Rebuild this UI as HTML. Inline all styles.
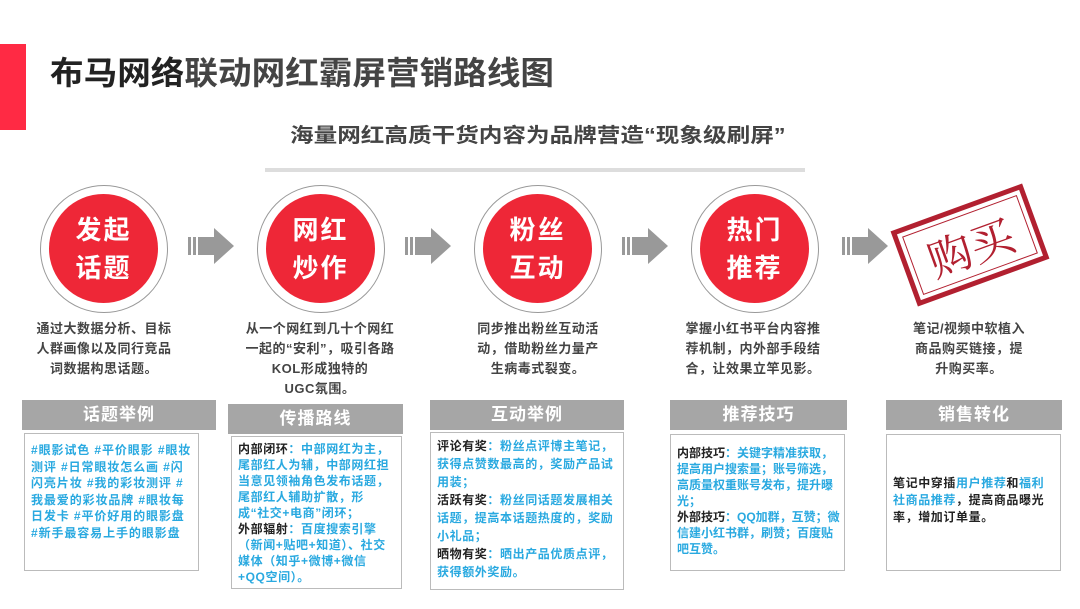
<!DOCTYPE html>
<html><head><meta charset="utf-8"><style>
*{margin:0;padding:0;box-sizing:border-box}
body{width:1080px;height:609px;background:#fff;position:relative;overflow:hidden;font-family:"Liberation Sans","Noto Sans CJK SC",sans-serif;font-weight:bold}
.a{position:absolute}
.circ{position:absolute;width:128px;height:128px;border-radius:50%;border:1.5px solid #999;background:#fff}
.circ div{position:absolute;left:8px;top:8px;width:109px;height:109px;border-radius:50%;background:#ee2737;color:#fff;font-size:26px;line-height:38px;text-align:center;padding-top:17px;letter-spacing:2px}
.desc{position:absolute;font-size:13px;line-height:20px;color:#444;text-align:center;letter-spacing:0.5px}
.hd{position:absolute;height:30px;background:#a6a6a6;color:#fff;font-size:17px;line-height:30px;text-align:center;letter-spacing:1px}
.bx{position:absolute;border:1.5px solid #bbb;background:#fff;font-size:12px;line-height:16.5px;color:#29a9e0;padding:6px 6px;letter-spacing:0.6px}
.k{color:#222}
.arr{position:absolute;width:50px;height:40px}
</style></head><body>
<div class="a" style="left:0;top:44px;width:26px;height:86px;background:#ff2a44"></div>
<div class="a" style="left:50px;top:55px;font-size:32px;line-height:36px;color:#222;white-space:nowrap;transform:scaleX(1.05);transform-origin:0 0">布马网络<span style="color:#444">联动网红霸屏营销路线图</span></div>
<div class="a" style="left:290px;top:123px;font-size:20px;line-height:26px;color:#444;white-space:nowrap;transform:scaleX(1.18);transform-origin:0 0">海量网红高质干货内容为品牌营造“现象级刷屏”</div>
<div class="a" style="left:265px;top:168px;width:540px;height:4px;background:#ddd"></div>

<div class="circ" style="left:40px;top:185px"><div>发起<br>话题</div></div>
<div class="circ" style="left:257px;top:185px"><div>网红<br>炒作</div></div>
<div class="circ" style="left:474px;top:185px"><div>粉丝<br>互动</div></div>
<div class="circ" style="left:691px;top:185px"><div>热门<br>推荐</div></div>

<svg class="arr" style="left:188px;top:226px" viewBox="0 0 50 40"><rect x="0" y="11" width="3" height="18" fill="#999"/><rect x="5" y="11" width="3" height="18" fill="#999"/><rect x="10" y="11" width="16" height="18" fill="#999"/><polygon points="26,2 46,20 26,38" fill="#999"/></svg>
<svg class="arr" style="left:405px;top:226px" viewBox="0 0 50 40"><rect x="0" y="11" width="3" height="18" fill="#999"/><rect x="5" y="11" width="3" height="18" fill="#999"/><rect x="10" y="11" width="16" height="18" fill="#999"/><polygon points="26,2 46,20 26,38" fill="#999"/></svg>
<svg class="arr" style="left:622px;top:226px" viewBox="0 0 50 40"><rect x="0" y="11" width="3" height="18" fill="#999"/><rect x="5" y="11" width="3" height="18" fill="#999"/><rect x="10" y="11" width="16" height="18" fill="#999"/><polygon points="26,2 46,20 26,38" fill="#999"/></svg>
<svg class="arr" style="left:842px;top:226px" viewBox="0 0 50 40"><rect x="0" y="11" width="3" height="18" fill="#999"/><rect x="5" y="11" width="3" height="18" fill="#999"/><rect x="10" y="11" width="16" height="18" fill="#999"/><polygon points="26,2 46,20 26,38" fill="#999"/></svg>

<div class="a" style="left:900px;top:205px;width:140px;height:80px;transform:rotate(-20deg);border:5px solid #b22030;background:#fff">
<div style="position:absolute;left:4px;top:4px;right:4px;bottom:4px;border:1.5px solid #b22030;color:#b22030;font-weight:normal;font-family:'Noto Serif CJK SC',serif;font-size:44px;line-height:60px;text-align:center">购买</div></div>

<div class="desc" style="left:34px;top:319px;width:140px">通过大数据分析、目标人群画像以及同行竞品词数据构思话题。</div>
<div class="desc" style="left:245px;top:319px;width:150px">从一个网红到几十个网红一起的“安利”，吸引各路KOL形成独特的<br>UGC氛围。</div>
<div class="desc" style="left:472px;top:319px;width:132px">同步推出粉丝互动活动，借助粉丝力量产生病毒式裂变。</div>
<div class="desc" style="left:682px;top:319px;width:142px">掌握小红书平台内容推荐机制，内外部手段结合，让效果立竿见影。</div>
<div class="desc" style="left:910px;top:319px;width:118px">笔记/视频中软植入商品购买链接，提升购买率。</div>

<div class="hd" style="left:22px;top:400px;width:194px">话题举例</div>
<div class="hd" style="left:228px;top:404px;width:175px">传播路线</div>
<div class="hd" style="left:430px;top:400px;width:194px">互动举例</div>
<div class="hd" style="left:670px;top:400px;width:177px">推荐技巧</div>
<div class="hd" style="left:886px;top:400px;width:176px">销售转化</div>

<div class="bx" style="left:24px;top:433px;width:175px;height:138px;padding-top:8px;letter-spacing:0.9px">#眼影试色 #平价眼影 #眼妆测评 #日常眼妆怎么画 #闪闪亮片妆 #我的彩妆测评 #我最爱的彩妆品牌 #眼妆每日发卡 #平价好用的眼影盘 #新手最容易上手的眼影盘</div>
<div class="bx" style="left:231px;top:436px;width:171px;height:153px;padding-top:4px;line-height:16px"><span class="k">内部闭环</span>：中部网红为主，尾部红人为辅，中部网红担当意见领袖角色发布话题，尾部红人辅助扩散，形成“社交+电商”闭环；<br><span class="k">外部辐射</span>：百度搜索引擎（新闻+贴吧+知道）、社交媒体（知乎+微博+微信<br>+QQ空间）。</div>
<div class="bx" style="left:430px;top:432px;width:194px;height:158px;line-height:18px;padding-top:4px"><span class="k">评论有奖</span>：粉丝点评博主笔记，获得点赞数最高的，奖励产品试用装；<br><span class="k">活跃有奖</span>：粉丝同话题发展相关话题，提高本话题热度的，奖励小礼品；<br><span class="k">晒物有奖</span>：晒出产品优质点评，获得额外奖励。</div>
<div class="bx" style="left:670px;top:434px;width:175px;height:137px;padding:10px 4px 0 6px;line-height:16px;letter-spacing:0"><span class="k">内部技巧</span>：关键字精准获取，提高用户搜索量；账号筛选，高质量权重账号发布，提升曝光；<br><span class="k">外部技巧</span>：QQ加群，互赞；微信建小红书群，刷赞；百度贴吧互赞。</div>
<div class="bx" style="left:886px;top:434px;width:175px;height:137px;padding-top:40px;color:#222;line-height:17px">笔记中穿插<span style="color:#29a9e0">用户推荐</span>和<span style="color:#29a9e0">福利社商品推荐</span>，提高商品曝光率，增加订单量。</div>
</body></html>
